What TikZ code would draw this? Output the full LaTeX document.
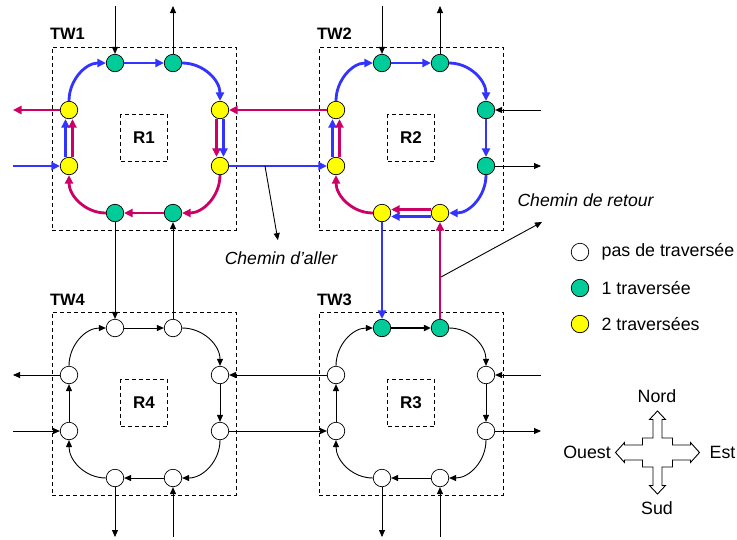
\documentclass[tikz,border=0pt]{standalone}
\usepackage{fontspec}
\setmainfont{Liberation Sans}
\usetikzlibrary{arrows.meta,positioning}

\definecolor{bleu}{RGB}{51,51,255}
\definecolor{rouge}{RGB}{204,0,102}
\definecolor{vert}{RGB}{0,204,153}
\definecolor{jaune}{RGB}{255,255,0}

\begin{document}
\begin{tikzpicture}[
      x=1pt, y=1pt,
      >={Triangle[length=7pt,width=6pt]},
      zone/.style={draw, dash pattern=on 4pt off 3pt, minimum width=184pt, minimum height=183pt},
      room/.style={draw, dash pattern=on 4pt off 3pt, minimum size=47pt, font=\fontsize{17}{20}\selectfont\bfseries},
      lbl/.style={font=\fontsize{16.5}{20}\selectfont\bfseries, inner sep=0pt},
      txt/.style={font=\fontsize{17.8}{20}\selectfont},
      note/.style={font=\fontsize{17.6}{20}\selectfont\itshape},
      port/.style={circle, draw, line width=0.7pt, minimum size=17.5pt, inner sep=0pt, fill=white},
      one/.style={port, fill=vert},
      two/.style={port, fill=jaune},
      fil/.style={line width=0.9pt},
      fort/.style={line width=2.8pt},
      aller/.style={draw=bleu, line width=2.8pt, >={Triangle[length=8.5pt,width=8pt]}},
      retour/.style={draw=rouge, line width=2.8pt, >={Triangle[length=8.5pt,width=8pt]}}
    ]
    \useasboundingbox (0,0) rectangle (737,-539);

    % zones et salles
    \node[zone] (z1) at (144,-138.5) {};
    \node[zone] (z2) at (411,-138.5) {};
    \node[zone] (z3) at (411,-403.5) {};
    \node[zone] (z4) at (144,-403.5) {};
    \node[room] (r1) at (144,-138) {R1};
    \node[room] (r2) at (411,-138) {R2};
    \node[room] (r3) at (411,-403) {R3};
    \node[room] (r4) at (144,-403) {R4};
    \node[lbl, above right=7pt and -2pt of z1.north west] (tw1) {TW1};
    \node[lbl, above right=7pt and -2pt of z2.north west] (tw2) {TW2};
    \node[lbl, above right=6pt and -2pt of z3.north west] (tw3) {TW3};
    \node[lbl, above right=6pt and -2pt of z4.north west] (tw4) {TW4};

    % TW1
    \node[one] (w1tl) at (115,-63) {};
    \node[one] (w1tr) at (173,-63) {};
    \node[two] (w1rt) at (220,-110) {};
    \node[two] (w1rb) at (220,-166) {};
    \node[one] (w1br) at (173,-213) {};
    \node[one] (w1bl) at (115,-213) {};
    \node[two] (w1lb) at (69,-166) {};
    \node[two] (w1lt) at (69,-110) {};

    % TW2
    \node[one] (w2tl) at (382,-63) {};
    \node[one] (w2tr) at (440,-63) {};
    \node[one] (w2rt) at (486,-110) {};
    \node[one] (w2rb) at (486,-166) {};
    \node[two] (w2br) at (440,-213) {};
    \node[two] (w2bl) at (382,-213) {};
    \node[two] (w2lb) at (336,-166) {};
    \node[two] (w2lt) at (336,-110) {};

    % TW3
    \node[one] (w3tl) at (382,-328) {};
    \node[one] (w3tr) at (440,-328) {};
    \node[port] (w3rt) at (486,-375) {};
    \node[port] (w3rb) at (486,-431) {};
    \node[port] (w3br) at (440,-478) {};
    \node[port] (w3bl) at (382,-478) {};
    \node[port] (w3lb) at (336,-431) {};
    \node[port] (w3lt) at (336,-375) {};

    % TW4
    \node[port] (w4tl) at (115,-328) {};
    \node[port] (w4tr) at (173,-328) {};
    \node[port] (w4rt) at (220,-375) {};
    \node[port] (w4rb) at (220,-431) {};
    \node[port] (w4br) at (173,-478) {};
    \node[port] (w4bl) at (115,-478) {};
    \node[port] (w4lb) at (69,-431) {};
    \node[port] (w4lt) at (69,-375) {};

    % bords libres
    \coordinate (haut) at (0,-6);
    \coordinate (bas) at (0,-537);
    \coordinate (gauche) at (13,0);
    \coordinate (droite) at (541,0);

    % anneau TW1
    \draw[aller,->] ([xshift=-3.5pt]w1lb.north) -- ([xshift=-3.5pt]w1lt.south);
    \draw[retour,->] ([xshift=3.5pt]w1lb.north) -- ([xshift=3.5pt]w1lt.south);
    \draw[aller,->] (w1lt) to[out=90,in=180] (w1tl);
    \draw[aller,->] (w1tl) -- (w1tr);
    \draw[aller,->] (w1tr) to[out=0,in=90] (w1rt);
    \draw[retour,->] ([xshift=-3.5pt]w1rt.south) -- ([xshift=-3.5pt]w1rb.north);
    \draw[aller,->] ([xshift=3.5pt]w1rt.south) -- ([xshift=3.5pt]w1rb.north);
    \draw[retour,->] (w1rb) to[out=-90,in=0] (w1br);
    \draw[retour,->] (w1br) -- (w1bl);
    \draw[retour,->] (w1bl) to[out=180,in=-90] (w1lb);

    % anneau TW2
    \draw[aller,->] ([xshift=-3.5pt]w2lb.north) -- ([xshift=-3.5pt]w2lt.south);
    \draw[retour,->] ([xshift=3.5pt]w2lb.north) -- ([xshift=3.5pt]w2lt.south);
    \draw[aller,->] (w2lt) to[out=90,in=180] (w2tl);
    \draw[aller,->] (w2tl) -- (w2tr);
    \draw[aller,->] (w2tr) to[out=0,in=90] (w2rt);
    \draw[aller,->] (w2rt) -- (w2rb);
    \draw[aller,->] (w2rb) to[out=-90,in=0] (w2br);
    \draw[retour,->] ([yshift=3.5pt]w2br.west) -- ([yshift=3.5pt]w2bl.east);
    \draw[aller,->] ([yshift=-3.5pt]w2br.west) -- ([yshift=-3.5pt]w2bl.east);
    \draw[retour,->] (w2bl) to[out=180,in=-90] (w2lb);

    % anneau TW3
    \draw[fort,->] (w3tl) -- (w3tr);
    \draw[fil,->] (w3tr) to[out=0,in=90] (w3rt);
    \draw[fil,->] (w3rt) -- (w3rb);
    \draw[fil,->] (w3rb) to[out=-90,in=0] (w3br);
    \draw[fil,->] (w3br) -- (w3bl);
    \draw[fil,->] (w3bl) to[out=180,in=-90] (w3lb);
    \draw[fil,->] (w3lb) -- (w3lt);
    \draw[fil,->] (w3lt) to[out=90,in=180] (w3tl);

    % anneau TW4
    \draw[fil,->] (w4tl) -- (w4tr);
    \draw[fil,->] (w4tr) to[out=0,in=90] (w4rt);
    \draw[fil,->] (w4rt) -- (w4rb);
    \draw[fil,->] (w4rb) to[out=-90,in=0] (w4br);
    \draw[fil,->] (w4br) -- (w4bl);
    \draw[fil,->] (w4bl) to[out=180,in=-90] (w4lb);
    \draw[fil,->] (w4lb) -- (w4lt);
    \draw[fil,->] (w4lt) to[out=90,in=180] (w4tl);

    % liaisons entre zones
    \draw[retour,->] (w2lt) -- (w1rt);
    \draw[aller,->] (w1rb) -- (w2lb);
    \draw[fil,->] (w1bl) -- (w4tl);
    \draw[fil,->] (w4tr) -- (w1br);
    \draw[aller,->] (w2bl) -- (w3tl);
    \draw[retour,->] (w3tr) -- (w2br);
    \draw[fil,->] (w3lt) -- (w4rt);
    \draw[fil,->] (w4rb) -- (w3lb);

    % entrees et sorties
    \draw[fil,->] (w1tl |- haut) -- (w1tl);
    \draw[fil,->] (w1tr) -- (w1tr |- haut);
    \draw[retour,->] (w1lt) -- (w1lt -| gauche);
    \draw[aller,->] (w1lb -| gauche) -- (w1lb);
    \draw[fil,->] (w2tl |- haut) -- (w2tl);
    \draw[fil,->] (w2tr) -- (w2tr |- haut);
    \draw[fil,->] (w2rt -| droite) -- (w2rt);
    \draw[fil,->] (w2rb) -- (w2rb -| droite);
    \draw[fil,->] (w3rt -| droite) -- (w3rt);
    \draw[fil,->] (w3rb) -- (w3rb -| droite);
    \draw[fil,->] (w3bl) -- (w3bl |- bas);
    \draw[fil,->] (w3br |- bas) -- (w3br);
    \draw[fil,->] (w4lt) -- (w4lt -| gauche);
    \draw[fil,->] (w4lb -| gauche) -- (w4lb);
    \draw[fil,->] (w4bl) -- (w4bl |- bas);
    \draw[fil,->] (w4br |- bas) -- (w4br);

    % chemins
    \coordinate (pa) at (265,-166);
    \node[note] (na) at (281,-258) {Chemin d’aller};
    \draw[fil,->, shorten >=8pt] (pa) -- (na);
    \coordinate (pr) at (441,-277);
    \coordinate (pr2) at (542,-222);
    \node[note] (nr) at (585.5,-200) {Chemin de retour};
    \draw[fil,->] (pr) -- (pr2);

    % legende
    \node[port] (l0) at (580,-252) {};
    \node[one] (l1) at (580,-288) {};
    \node[two] (l2) at (580,-324) {};
    \node[txt, right=9pt of l0] (t0) {pas de traversée};
    \node[txt, right=9pt of l1] (t1) {1 traversée};
    \node[txt, right=9pt of l2] (t2) {2 traversées};

    % rose des vents
    \begin{scope}[shift={(657.5,-452.5)}]
      \draw[fil] (0,41.5) -- (8,33) -- (4.5,33) -- (4.5,14.5) -- (15,14.5) -- (15,7.5) -- (33,7.5)
        -- (33,10) -- (42,0) -- (33,-10) -- (33,-7.5) -- (15,-7.5) -- (15,-14.5) -- (4.5,-14.5)
        -- (4.5,-33) -- (8,-33) -- (0,-41.5) -- (-8,-33) -- (-4.5,-33) -- (-4.5,-14.5) -- (-15,-14.5)
        -- (-15,-7.5) -- (-33,-7.5) -- (-33,-10) -- (-42,0) -- (-33,10) -- (-33,7.5) -- (-15,7.5)
        -- (-15,14.5) -- (-4.5,14.5) -- (-4.5,33) -- (-8,33) -- cycle;
    \end{scope}
    \node[txt] (nord) at (657,-396) {Nord};
    \node[txt] (sud) at (657,-508) {Sud};
    \node[txt] (ouest) at (587,-452) {Ouest};
    \node[txt] (est) at (722.5,-452) {Est};
  \end{tikzpicture}
\end{document}
